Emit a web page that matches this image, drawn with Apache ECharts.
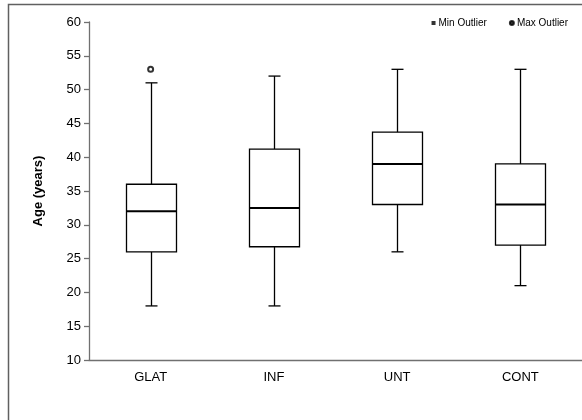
<!DOCTYPE html>
<html><head><meta charset="utf-8">
<script src="https://cdn.jsdelivr.net/npm/echarts@6/dist/echarts.min.js"></script>
<style>html,body{margin:0;padding:0;background:#fff}#c{width:582px;height:420px}</style>
</head><body><div id="c"></div>
<script>
var categories = ['GLAT', 'INF', 'UNT', 'CONT'];
var mins    = [18, 18, 26, 21];
var q1s     = [26, 26.75, 33, 27];
var medians = [32, 32.5, 39, 33];
var q3s     = [36, 41.2, 43.7, 39];
var maxs    = [51, 52, 53, 53];
var maxOutliers = [[0, 53]];
var minOutliers = [];
var yTicks = [10, 60, 5];

var boxData = categories.map(function (c, i) {
  return [i, mins[i], q1s[i], medians[i], q3s[i], maxs[i]];
});

function renderBox(params, api) {
  var i = api.value(0);
  var pMin = api.coord([i, api.value(1)]);
  var pQ1 = api.coord([i, api.value(2)]);
  var pMed = api.coord([i, api.value(3)]);
  var pQ3 = api.coord([i, api.value(4)]);
  var pMax = api.coord([i, api.value(5)]);
  var x = Math.round(pMed[0]) + 0.5;
  var hw = 25, cw = 6;
  var st = {stroke: '#000', lineWidth: 1.3, fill: null};
  return {
    type: 'group',
    children: [
      {type: 'line', shape: {x1: x, y1: pMax[1], x2: x, y2: pQ3[1]}, style: st},
      {type: 'line', shape: {x1: x - cw, y1: pMax[1], x2: x + cw, y2: pMax[1]}, style: st},
      {type: 'line', shape: {x1: x, y1: pQ1[1], x2: x, y2: pMin[1]}, style: st},
      {type: 'line', shape: {x1: x - cw, y1: pMin[1], x2: x + cw, y2: pMin[1]}, style: st},
      {type: 'rect', shape: {x: x - hw, y: pQ3[1], width: 2 * hw, height: pQ1[1] - pQ3[1]}, style: {stroke: '#000', lineWidth: 1.3, fill: '#fff'}},
      {type: 'line', shape: {x1: x - hw, y1: pMed[1], x2: x + hw, y2: pMed[1]}, style: {stroke: '#000', lineWidth: 2}}
    ]
  };
}

var chart = echarts.init(document.getElementById('c'));
chart.setOption({
  backgroundColor: '#fff',
  animation: false,
  textStyle: {fontFamily: 'Liberation Sans, Arial, sans-serif'},
  graphic: [{
    type: 'rect', shape: {x: 8.5, y: 4.5, width: 600, height: 430},
    style: {stroke: '#606060', lineWidth: 1.5, fill: null}, z: 0
  }],
  legend: {
    right: 9, top: 13, itemGap: 22, itemWidth: 4, itemHeight: 4,
    textStyle: {fontSize: 10, color: '#000', padding: [0, 0, 0, -2]},
    data: [{name: 'Min Outlier', icon: 'rect'}, {name: 'Max Outlier', icon: 'circle'}]
  },
  grid: {left: 89, top: 22, bottom: 60, width: 497},
  xAxis: {
    type: 'category', data: categories, boundaryGap: true,
    axisLine: {lineStyle: {color: '#707070', width: 1.3}},
    axisTick: {length: 4, lineStyle: {color: '#707070', width: 1.3}},
    axisLabel: {fontSize: 13, color: '#000', margin: 11}
  },
  yAxis: {
    type: 'value', min: yTicks[0], max: yTicks[1], interval: yTicks[2],
    name: 'Age (years)', nameLocation: 'middle', nameGap: 44,
    nameTextStyle: {fontSize: 13, fontWeight: 'bold', color: '#000'},
    axisLine: {show: true, lineStyle: {color: '#707070', width: 1.3}},
    axisTick: {show: true, length: 5, lineStyle: {color: '#707070', width: 1.3}},
    axisLabel: {fontSize: 13, color: '#000', margin: 8},
    splitLine: {show: false}
  },
  series: [
    {type: 'custom', name: 'box', renderItem: renderBox, data: boxData, encode: {x: 0, y: [1, 5]}, z: 2},
    {type: 'scatter', name: 'Min Outlier', symbol: 'rect', symbolSize: 5, data: minOutliers,
     itemStyle: {color: '#000'}},
    {type: 'scatter', name: 'Max Outlier', symbol: 'emptyCircle', symbolSize: 5, data: maxOutliers,
     itemStyle: {color: '#000', borderColor: '#000', borderWidth: 1.5}, z: 3}
  ]
});
</script></body></html>
